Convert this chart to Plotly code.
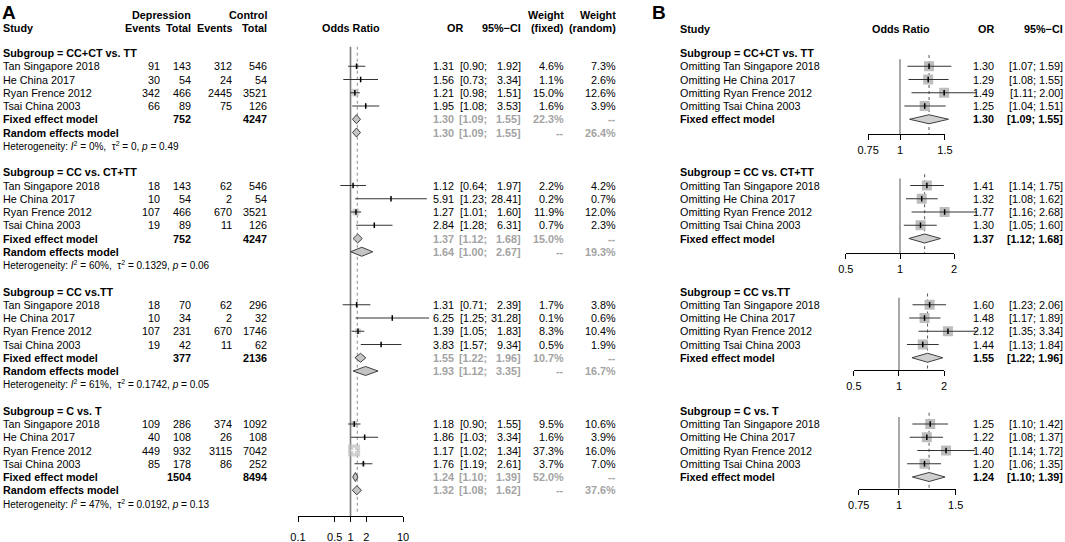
import math
import plotly.graph_objects as go

W, H = 1065, 542
FONT = "Liberation Sans, Arial, sans-serif"
FS = 10.8

# ------------------------------------------------------------------ data
subgroups = ["CC+CT vs. TT", "CC vs. CT+TT", "CC vs.TT", "C vs. T"]
studies = ["Tan Singapore 2018", "He China 2017", "Ryan Frence 2012", "Tsai China 2003"]

dep_events = [[91, 30, 342, 66], [18, 10, 107, 19], [18, 10, 107, 19], [109, 40, 449, 85]]
dep_total = [[143, 54, 466, 89], [143, 54, 466, 89], [70, 34, 231, 42], [286, 108, 932, 178]]
ctl_events = [[312, 24, 2445, 75], [62, 2, 670, 11], [62, 2, 670, 11], [374, 26, 3115, 86]]
ctl_total = [[546, 54, 3521, 126], [546, 54, 3521, 126], [296, 32, 1746, 62], [1092, 108, 7042, 252]]

or_A = [[1.31, 1.56, 1.21, 1.95], [1.12, 5.91, 1.27, 2.84], [1.31, 6.25, 1.39, 3.83], [1.18, 1.86, 1.17, 1.76]]
lo_A = [[0.90, 0.73, 0.98, 1.08], [0.64, 1.23, 1.01, 1.28], [0.71, 1.25, 1.05, 1.57], [0.90, 1.03, 1.02, 1.19]]
hi_A = [[1.92, 3.34, 1.51, 3.53], [1.97, 28.41, 1.60, 6.31], [2.39, 31.28, 1.83, 9.34], [1.55, 3.34, 1.34, 2.61]]
w_fixed = [[4.6, 1.1, 15.0, 1.6], [2.2, 0.2, 11.9, 0.7], [1.7, 0.1, 8.3, 0.5], [9.5, 1.6, 37.3, 3.7]]
w_random = [[7.3, 2.6, 12.6, 3.9], [4.2, 0.7, 12.0, 2.3], [3.8, 0.6, 10.4, 1.9], [10.6, 3.9, 16.0, 7.0]]

fixed_or = [1.30, 1.37, 1.55, 1.24]
fixed_lo = [1.09, 1.12, 1.22, 1.10]
fixed_hi = [1.55, 1.68, 1.96, 1.39]
fixed_w = [22.3, 15.0, 10.7, 52.0]
random_or = [1.30, 1.64, 1.93, 1.32]
random_lo = [1.09, 1.00, 1.12, 1.08]
random_hi = [1.55, 2.67, 3.35, 1.62]
random_w = [26.4, 19.3, 16.7, 37.6]
het_I2 = ["0%", "60%", "61%", "47%"]
het_tau2 = ["0", "0.1329", "0.1742", "0.0192"]
het_p = ["0.49", "0.06", "0.05", "0.13"]
overall_or = 1.35
ticks_A = [0.1, 0.5, 1, 2, 10]

omit_labels = ["Omitting " + s for s in studies]
or_B = [[1.30, 1.29, 1.49, 1.25], [1.41, 1.32, 1.77, 1.30], [1.60, 1.48, 2.12, 1.44], [1.25, 1.22, 1.40, 1.20]]
lo_B = [[1.07, 1.08, 1.11, 1.04], [1.14, 1.08, 1.16, 1.05], [1.23, 1.17, 1.35, 1.13], [1.10, 1.08, 1.14, 1.06]]
hi_B = [[1.59, 1.55, 2.00, 1.51], [1.75, 1.62, 2.68, 1.60], [2.06, 1.89, 3.34, 1.84], [1.42, 1.37, 1.72, 1.35]]
ticks_B = [[0.75, 1, 1.5], [0.5, 1, 2], [0.5, 1, 2], [0.75, 1, 1.5]]

# ------------------------------------------------------------------ geometry
ROW0, ROWH = 53.0, 13.25


def row_y(g, k):
    return ROW0 + ROWH * (9 * g + k)


A_C, A_S = 350.5, 52.5           # pixel of OR=1, pixels per decade
A_AXIS_Y = 516.0
B_C = [900.0, 900.0, 899.0, 899.0]
B_S = [255.0, 180.0, 150.0, 322.0]
B_AXIS_Y = [134.0, 253.0, 370.0, 488.5]

GRAY_TXT = "#a3a3a3"
SQ = "#bdbdbd"
LINE = "#333333"

fig = go.Figure()
ann = []


def T(x, y, text, anchor="left", size=FS, bold=False, color="black"):
    if bold:
        text = f"<b>{text}</b>"
    ann.append(dict(x=x / W, y=y, xref="paper", yref="y", text=text, showarrow=False,
                    xanchor=anchor, yanchor="middle", borderpad=0, borderwidth=0,
                    font=dict(size=size, color=color, family=FONT)))


def data_range(c, s):
    return [(0 - c) / s, (W - c) / s]


def f2(v):
    return f"{v:.2f}"


# ------------------------------------------------------------------ panel A
T(2, 12, "A", size=19, bold=True)
T(161, 15, "Depression", "center", bold=True)
T(267, 15, "Control", "right", bold=True)
T(3, 28, "Study", bold=True)
T(160, 28, "Events", "right", bold=True)
T(191, 28, "Total", "right", bold=True)
T(232, 28, "Events", "right", bold=True)
T(267, 28, "Total", "right", bold=True)
T(351, 28, "Odds Ratio", "center", bold=True)
T(463, 28, "OR", "right", bold=True)
T(521, 28, "95%−CI", "right", bold=True)
T(564, 15, "Weight", "right", bold=True)
T(564, 28, "(fixed)", "right", bold=True)
T(616, 15, "Weight", "right", bold=True)
T(616, 28, "(random)", "right", bold=True)

for g in range(4):
    T(3, row_y(g, 0), f"Subgroup = {subgroups[g]}", bold=True)
    for i in range(4):
        y = row_y(g, i + 1)
        T(3, y, studies[i])
        T(160, y, str(dep_events[g][i]), "right")
        T(191, y, str(dep_total[g][i]), "right")
        T(232, y, str(ctl_events[g][i]), "right")
        T(267, y, str(ctl_total[g][i]), "right")
        T(454, y, f2(or_A[g][i]), "right")
        T(487, y, f"[{f2(lo_A[g][i])};", "right")
        T(521, y, f"{f2(hi_A[g][i])}]", "right")
        T(564, y, f"{w_fixed[g][i]:.1f}%", "right")
        T(616, y, f"{w_random[g][i]:.1f}%", "right")
    y = row_y(g, 5)
    T(3, y, "Fixed effect model", bold=True)
    T(191, y, str(sum(dep_total[g])), "right", bold=True)
    T(267, y, str(sum(ctl_total[g])), "right", bold=True)
    T(454, y, f2(fixed_or[g]), "right", bold=True, color=GRAY_TXT)
    T(487, y, f"[{f2(fixed_lo[g])};", "right", bold=True, color=GRAY_TXT)
    T(521, y, f"{f2(fixed_hi[g])}]", "right", bold=True, color=GRAY_TXT)
    T(564, y, f"{fixed_w[g]:.1f}%", "right", bold=True, color=GRAY_TXT)
    T(616, y, "--", "right", bold=True, color=GRAY_TXT)
    y = row_y(g, 6)
    T(3, y, "Random effects model", bold=True)
    T(454, y, f2(random_or[g]), "right", bold=True, color=GRAY_TXT)
    T(487, y, f"[{f2(random_lo[g])};", "right", bold=True, color=GRAY_TXT)
    T(521, y, f"{f2(random_hi[g])}]", "right", bold=True, color=GRAY_TXT)
    T(564, y, "--", "right", bold=True, color=GRAY_TXT)
    T(616, y, f"{random_w[g]:.1f}%", "right", bold=True, color=GRAY_TXT)
    T(3, row_y(g, 7),
      f"Heterogeneity: <i>I</i><sup>2</sup> = {het_I2[g]},  τ<sup>2</sup> = {het_tau2[g]}, "
      f"<i>p</i> = {het_p[g]}", size=10)

# reference lines A
fig.add_trace(go.Scatter(x=[1, 1], y=[46.7, A_AXIS_Y], mode="lines", xaxis="x", yaxis="y",
                         line=dict(color="#7a7a7a", width=1.6), hoverinfo="skip", showlegend=False))
fig.add_trace(go.Scatter(x=[overall_or, overall_or], y=[46.7, A_AXIS_Y - 2], mode="lines",
                         xaxis="x", yaxis="y", line=dict(color="#a0a0a0", width=1.2, dash="dot"),
                         hoverinfo="skip", showlegend=False))


def diamond(xaxis, est, lo, hi, y, half=4.5, fill="#c4c4c4", edge="#404040"):
    fig.add_trace(go.Scatter(x=[lo, est, hi, est, lo], y=[y, y - half, y, y + half, y],
                             mode="lines", fill="toself", fillcolor=fill, xaxis=xaxis, yaxis="y",
                             line=dict(color=edge, width=1), hoverinfo="skip", showlegend=False))


for g in range(4):
    ys = [row_y(g, i + 1) for i in range(4)]
    sizes = [12.0 * math.sqrt(w / 37.3) for w in w_fixed[g]]
    fig.add_trace(go.Scatter(x=or_A[g], y=ys, mode="markers", xaxis="x", yaxis="y",
                             marker=dict(symbol="square", size=sizes, color=SQ, line=dict(width=0)),
                             hoverinfo="skip", showlegend=False))
    for i in range(4):
        ci_px = A_S * (math.log10(hi_A[g][i]) - math.log10(lo_A[g][i]))
        col = "white" if ci_px < sizes[i] else LINE
        fig.add_trace(go.Scatter(x=[lo_A[g][i], hi_A[g][i]], y=[ys[i], ys[i]], mode="lines",
                                 xaxis="x", yaxis="y", line=dict(color=col, width=1),
                                 hoverinfo="skip", showlegend=False))
        fig.add_trace(go.Scatter(x=[or_A[g][i]], y=[ys[i]], mode="markers", xaxis="x", yaxis="y",
                                 marker=dict(symbol="line-ns", size=4,
                                             line=dict(color=col if col == "white" else "black", width=1.5)),
                                 hoverinfo="skip", showlegend=False))
    diamond("x", fixed_or[g], fixed_lo[g], fixed_hi[g], row_y(g, 5))
    diamond("x", random_or[g], random_lo[g], random_hi[g], row_y(g, 6))

# ------------------------------------------------------------------ panel B
T(652, 12, "B", size=19, bold=True)
T(680, 29, "Study", bold=True)
T(901, 29, "Odds Ratio", "center", bold=True)
T(994, 29, "OR", "right", bold=True)
T(1063, 29, "95%−CI", "right", bold=True)

for g in range(4):
    xa = f"x{3 + g}"
    T(680, row_y(g, 0), f"Subgroup = {subgroups[g]}", bold=True)
    ys = [row_y(g, i + 1) for i in range(4)]
    for i in range(4):
        T(680, ys[i], omit_labels[i])
        T(994, ys[i], f2(or_B[g][i]), "right")
        T(1063, ys[i], f"[{f2(lo_B[g][i])}; {f2(hi_B[g][i])}]", "right")
    yf = row_y(g, 5)
    T(680, yf, "Fixed effect model", bold=True)
    T(994, yf, f2(fixed_or[g]), "right", bold=True)
    T(1063, yf, f"[{f2(fixed_lo[g])}; {f2(fixed_hi[g])}]", "right", bold=True)

    fig.add_trace(go.Scatter(x=[1, 1], y=[ys[0] - 7, B_AXIS_Y[g]], mode="lines", xaxis=xa, yaxis="y",
                             line=dict(color="#7a7a7a", width=1.3), hoverinfo="skip", showlegend=False))
    fig.add_trace(go.Scatter(x=[fixed_or[g], fixed_or[g]], y=[row_y(g, 0) + 2, B_AXIS_Y[g]],
                             mode="lines", xaxis=xa, yaxis="y",
                             line=dict(color="#555555", width=1, dash="dot"),
                             hoverinfo="skip", showlegend=False))
    fig.add_trace(go.Scatter(x=or_B[g], y=ys, mode="markers", xaxis=xa, yaxis="y",
                             marker=dict(symbol="square", size=10, color=SQ, line=dict(width=0)),
                             hoverinfo="skip", showlegend=False))
    cx, cy = [], []
    for i in range(4):
        cx += [lo_B[g][i], hi_B[g][i], None]
        cy += [ys[i], ys[i], None]
    fig.add_trace(go.Scatter(x=cx, y=cy, mode="lines", xaxis=xa, yaxis="y",
                             line=dict(color=LINE, width=1), hoverinfo="skip", showlegend=False))
    fig.add_trace(go.Scatter(x=or_B[g], y=ys, mode="markers", xaxis=xa, yaxis="y",
                             marker=dict(symbol="line-ns", size=4, line=dict(color="black", width=1.5)),
                             hoverinfo="skip", showlegend=False))
    diamond(xa, fixed_or[g], fixed_lo[g], fixed_hi[g], yf, half=4.5, fill="#d0d0d0")

# ------------------------------------------------------------------ axes
layout = dict(width=W, height=H, margin=dict(l=0, r=0, t=0, b=0, pad=0, autoexpand=False),
              autosize=False, hovermode=False,
              paper_bgcolor="white", plot_bgcolor="rgba(0,0,0,0)",
              showlegend=False, annotations=ann, font=dict(family=FONT, color="black"))

layout["yaxis"] = dict(domain=[0, 1], range=[H, 0], visible=False, fixedrange=True)
layout["xaxis"] = dict(domain=[0, 1], type="log", range=data_range(A_C, A_S), visible=False,
                       anchor="y", fixedrange=True)
for g in range(4):
    layout[f"xaxis{3 + g}"] = dict(domain=[0, 1], type="log", range=data_range(B_C[g], B_S[g]),
                                   visible=False, anchor="y", fixedrange=True)


def tick_axis(xname, yname, c, s, tvals, line_y, standoff):
    lo, hi = min(tvals), max(tvals)
    d0 = (c + s * math.log10(lo)) / W
    d1 = (c + s * math.log10(hi)) / W
    layout[f"xaxis{xname}"] = dict(domain=[d0, d1], type="log",
                                   range=[math.log10(lo), math.log10(hi)], anchor=f"y{yname}",
                                   tickvals=tvals, ticktext=[f"{v:g}" for v in tvals],
                                   showline=True, linecolor="black", linewidth=1,
                                   ticks="outside", ticklen=5, tickcolor="black", tickwidth=1,
                                   showgrid=False, zeroline=False, ticklabelstandoff=standoff,
                                   automargin=False,
                                   tickfont=dict(size=11, family=FONT, color="black"),
                                   fixedrange=True)
    layout[f"yaxis{yname}"] = dict(domain=[1 - line_y / H, 1 - (line_y - 10) / H], range=[0, 1],
                                   visible=False, fixedrange=True)
    fig.add_trace(go.Scatter(x=[1], y=[0.5], xaxis=f"x{xname}", yaxis=f"y{yname}", mode="markers",
                             marker=dict(opacity=0), hoverinfo="skip", showlegend=False))


tick_axis(2, 2, A_C, A_S, ticks_A, A_AXIS_Y, 6)
for g in range(4):
    tick_axis(7 + g, 3 + g, B_C[g], B_S[g], ticks_B[g], B_AXIS_Y[g], 1)

fig.update_layout(**layout)
fig.write_html("out.html", config={"displayModeBar": False, "staticPlot": True},
               post_script="document.body.style.margin='0';document.body.style.overflow='hidden';")
